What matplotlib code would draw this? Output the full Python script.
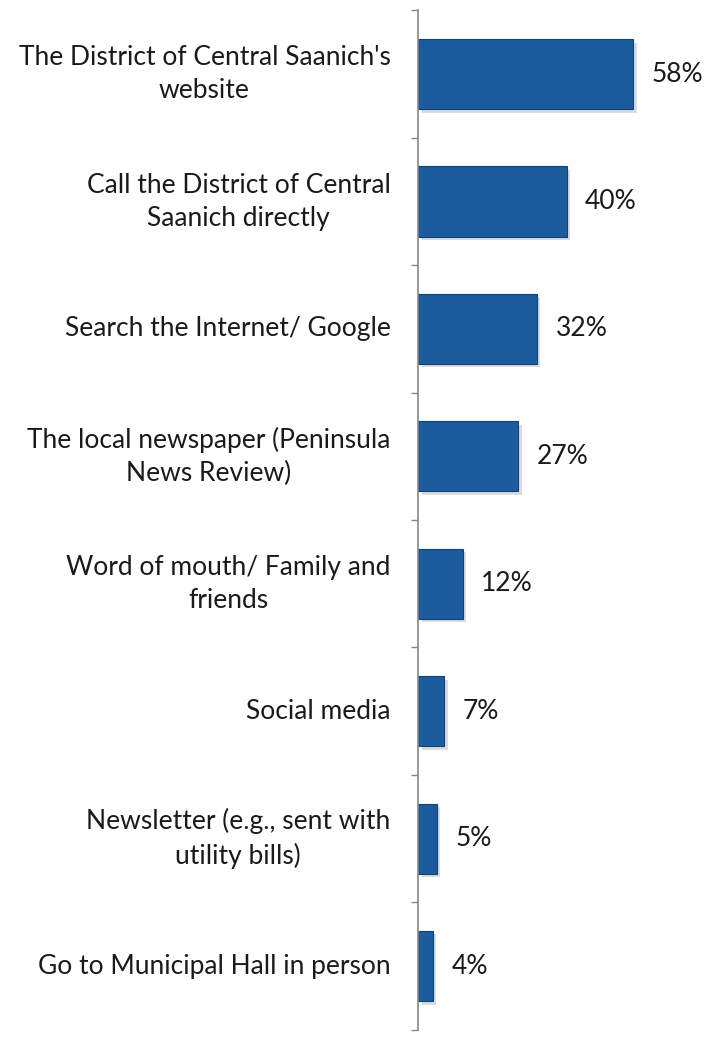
import matplotlib.pyplot as plt
import matplotlib.patheffects as pe
import numpy as np

categories = [
    "The District of Central Saanich's\nwebsite",
    "Call the District of Central\nSaanich directly",
    "Search the Internet/ Google",
    "The local newspaper (Peninsula\nNews Review)",
    "Word of mouth/ Family and\nfriends",
    "Social media",
    "Newsletter (e.g., sent with\nutility bills)",
    "Go to Municipal Hall in person",
]
values = [58, 40, 32, 27, 12, 7, 5, 4]

plt.rcParams['font.family'] = ['Lato', 'DejaVu Sans']

fig = plt.figure(figsize=(7.04, 10.37), dpi=100)
ax = fig.add_axes([0.594, 0.007, 0.39, 0.983])

y = np.arange(len(categories))
bars = ax.barh(y, values, height=0.55, color='#1c5c9e', edgecolor='#0f4478', linewidth=0.8)
for b in bars:
    b.set_path_effects([pe.SimplePatchShadow(offset=(2.5, -2.5), shadow_rgbFace='#b0b0b0', alpha=0.45),
                        pe.Normal()])

for yi, v in zip(y, values):
    ax.text(v + 5.0, yi, f"{v}%", va='center', ha='left', fontsize=19, color='#1a1a1a')

ax.set_ylim(len(categories) - 0.5, -0.5)
ax.set_xlim(0, 74)
ax.set_yticks(y)
ax.set_yticklabels(categories, fontsize=19, color='#1a1a1a', multialignment='center',
                   linespacing=1.4)
for lbl in ax.get_yticklabels():
    lbl.set_va('center')
ax.set_yticks(np.arange(len(categories) + 1) - 0.5, minor=True)
ax.tick_params(axis='y', which='major', length=0, pad=20)
ax.tick_params(axis='y', which='minor', length=5, color='#888888', width=1)
ax.set_xticks([])
for s in ['top', 'right', 'bottom']:
    ax.spines[s].set_visible(False)
ax.spines['left'].set_color('#888888')
ax.spines['left'].set_linewidth(1.2)

fig.savefig('out.png', dpi=100)
